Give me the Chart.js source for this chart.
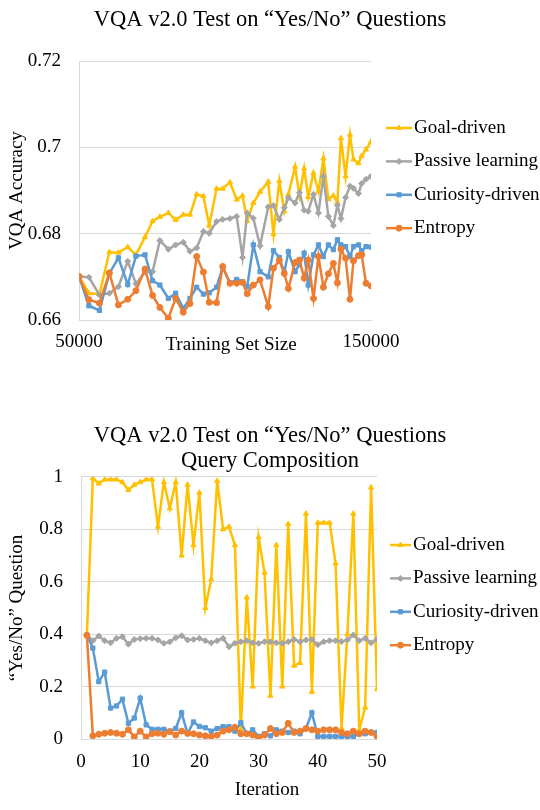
<!DOCTYPE html>
<html>
<head>
<meta charset="utf-8">
<script src="https://cdn.jsdelivr.net/npm/chart.js@4.4.1/dist/chart.umd.min.js"></script>
<style>
  body { margin: 0; background: #fff; }
  canvas { display: block; }
</style>
</head>
<body>
<canvas id="top" width="540" height="400"></canvas>
<canvas id="bottom" width="540" height="410"></canvas>
<script>
const seriesNames = ['Goal-driven', 'Passive learning', 'Curiosity-driven', 'Entropy'];
const seriesColors = ['#FFC000', '#A5A5A5', '#5B9BD5', '#ED7D31'];
const pointStyles = ['triangle', 'rectRot', 'rect', 'circle'];

// top chart: VQA accuracy against training set size
const sizeTicks = [50000, 150000];
const trainSizes = [50000, 53400, 57000, 60400, 63500, 66700, 69500, 72600, 75200, 77700,
    80600, 83100, 85700, 88000, 90300, 92600, 94600, 97100, 99200, 101700,
    104000, 106000, 107600, 109700, 112000, 114800, 116600, 118600, 120300, 121700,
    124000, 125500, 127100, 128500, 130300, 132000, 133700, 135400, 137100, 138500,
    139700, 141300, 142800, 144000, 145700, 146800, 148300, 150000];
const accGoal = [0.6701, 0.6662, 0.6660, 0.6757, 0.6756, 0.6769, 0.6751, 0.6792, 0.6829, 0.6839,
    0.6848, 0.6832, 0.6844, 0.6844, 0.6891, 0.6887, 0.6819, 0.6904, 0.6904, 0.6919,
    0.6879, 0.6888, 0.6830, 0.6871, 0.6897, 0.6920, 0.6799, 0.6922, 0.6852, 0.6891,
    0.6955, 0.6888, 0.6951, 0.6885, 0.6940, 0.6898, 0.6974, 0.6880, 0.6888, 0.6873,
    0.7021, 0.6933, 0.7029, 0.6972, 0.6963, 0.6980, 0.6995, 0.7013];
const accPassive = [0.6701, 0.6699, 0.6658, 0.6662, 0.6677, 0.6736, 0.6684, 0.6711, 0.6712, 0.6784,
    0.6764, 0.6774, 0.6780, 0.6759, 0.6767, 0.6805, 0.6801, 0.6828, 0.6833, 0.6835,
    0.6840, 0.6745, 0.6848, 0.6836, 0.6772, 0.6862, 0.6865, 0.6833, 0.6860, 0.6883,
    0.6871, 0.6895, 0.6854, 0.6852, 0.6891, 0.6848, 0.6933, 0.6840, 0.6819, 0.6866,
    0.6835, 0.6884, 0.6910, 0.6905, 0.6893, 0.6916, 0.6926, 0.6933];
const accCuriosity = [0.6701, 0.6633, 0.6622, 0.6708, 0.6744, 0.6682, 0.6748, 0.6751, 0.6691, 0.6681,
    0.6650, 0.6662, 0.6627, 0.6650, 0.6676, 0.6660, 0.6663, 0.6676, 0.6722, 0.6685,
    0.6694, 0.6689, 0.6677, 0.6774, 0.6712, 0.6700, 0.6761, 0.6745, 0.6710, 0.6758,
    0.6712, 0.6728, 0.6755, 0.6681, 0.6751, 0.6774, 0.6747, 0.6774, 0.6763, 0.6786,
    0.6774, 0.6770, 0.6747, 0.6770, 0.6774, 0.6760, 0.6770, 0.6769];
const accEntropy = [0.6701, 0.6647, 0.6639, 0.6709, 0.6635, 0.6648, 0.6668, 0.6718, 0.6657, 0.6629,
    0.6604, 0.6650, 0.6618, 0.6638, 0.6747, 0.6711, 0.6641, 0.6640, 0.6724, 0.6685,
    0.6685, 0.6687, 0.6661, 0.6681, 0.6693, 0.6631, 0.6720, 0.6738, 0.6708, 0.6673,
    0.6733, 0.6739, 0.6697, 0.6739, 0.6650, 0.6747, 0.6676, 0.6707, 0.6731, 0.6686,
    0.6764, 0.6743, 0.6648, 0.6737, 0.6749, 0.6751, 0.6685, 0.6679];

// bottom chart: share of "Yes/No" questions per iteration
const iterations = [1, 2, 3, 4, 5, 6, 7, 8, 9, 10, 11, 12, 13, 14, 15, 16, 17, 18, 19, 20,
    21, 22, 23, 24, 25, 26, 27, 28, 29, 30, 31, 32, 33, 34, 35, 36, 37, 38, 39, 40,
    41, 42, 43, 44, 45, 46, 47, 48, 49, 50];
const ynGoal = [0.40, 0.995, 0.975, 0.99, 0.99, 0.99, 0.98, 0.95, 0.97, 0.98,
    0.99, 0.99, 0.81, 0.98, 0.88, 0.98, 0.70, 0.97, 0.74, 0.94,
    0.50, 0.61, 0.985, 0.80, 0.81, 0.74, 0.035, 0.54, 0.20, 0.77,
    0.635, 0.165, 0.74, 0.20, 0.82, 0.28, 0.29, 0.86, 0.18, 0.825,
    0.825, 0.825, 0.67, 0.04, 0.40, 0.86, 0.035, 0.12, 0.96, 0.19];
const ynPassive = [0.397, 0.375, 0.393, 0.375, 0.367, 0.384, 0.390, 0.362, 0.380, 0.383,
    0.384, 0.384, 0.378, 0.365, 0.371, 0.386, 0.394, 0.378, 0.380, 0.384,
    0.375, 0.367, 0.375, 0.384, 0.352, 0.365, 0.371, 0.375, 0.367, 0.365,
    0.371, 0.371, 0.367, 0.365, 0.371, 0.380, 0.371, 0.378, 0.380, 0.360,
    0.371, 0.375, 0.375, 0.372, 0.378, 0.397, 0.375, 0.384, 0.367, 0.380];
const ynCuriosity = [0.397, 0.347, 0.219, 0.255, 0.118, 0.126, 0.152, 0.060, 0.080, 0.156,
    0.054, 0.037, 0.037, 0.037, 0.030, 0.040, 0.100, 0.020, 0.065, 0.048,
    0.043, 0.030, 0.040, 0.047, 0.047, 0.030, 0.062, 0.020, 0.035, 0.010,
    0.020, 0.012, 0.035, 0.030, 0.025, 0.030, 0.020, 0.040, 0.100, 0.010,
    0.010, 0.010, 0.010, 0.010, 0.010, 0.010, 0.020, 0.020, 0.025, 0.025];
const ynEntropy = [0.395, 0.012, 0.018, 0.022, 0.025, 0.022, 0.018, 0.035, 0.008, 0.030,
    0.008, 0.020, 0.022, 0.018, 0.028, 0.015, 0.030, 0.022, 0.020, 0.015,
    0.012, 0.010, 0.015, 0.030, 0.035, 0.045, 0.020, 0.020, 0.015, 0.005,
    0.015, 0.040, 0.020, 0.025, 0.060, 0.025, 0.030, 0.040, 0.035, 0.030,
    0.035, 0.035, 0.035, 0.025, 0.020, 0.030, 0.020, 0.030, 0.025, 0.010];

const serif = "'Liberation Serif', 'Times New Roman', serif";
Chart.defaults.font.family = serif;
Chart.defaults.font.size = 19;
Chart.defaults.color = '#000';

const gridColor = '#D9D9D9';
const fmt = (v) => String(+v.toFixed(2));

// Excel style legend: short line with the marker in its middle
const lineLegend = {
    id: 'lineLegend',
    afterDraw(chart, args, opts) {
        const ctx = chart.ctx;
        ctx.save();
        ctx.font = '19px ' + serif;
        ctx.textBaseline = 'middle';
        ctx.textAlign = 'left';
        chart.data.datasets.forEach((ds, i) => {
            const y = opts.top + i * opts.gap;
            ctx.strokeStyle = ds.borderColor;
            ctx.lineWidth = ds.borderWidth;
            ctx.beginPath();
            ctx.moveTo(opts.x, y);
            ctx.lineTo(opts.x + opts.len, y);
            ctx.stroke();
            ctx.fillStyle = ds.borderColor;
            ctx.lineWidth = 1;
            Chart.helpers.drawPoint(ctx, {
                pointStyle: ds.pointStyle,
                radius: ds.pointRadius,
                rotation: 0,
                borderWidth: 1,
            }, opts.x + opts.len / 2, y);
            ctx.fillStyle = '#000';
            ctx.fillText(ds.label, opts.x + opts.len + 2, y);
        });
        ctx.restore();
    },
};

// x axis titles sit off centre in the original, so they are placed by hand
const axisText = {
    id: 'axisText',
    afterDraw(chart, args, opts) {
        const ctx = chart.ctx;
        ctx.save();
        ctx.font = '19px ' + serif;
        ctx.textBaseline = 'middle';
        ctx.textAlign = 'center';
        ctx.fillStyle = '#000';
        ctx.fillText(opts.text, opts.x, opts.y);
        ctx.restore();
    },
};

// empty right hand axis keeps room for the legend while the title stays centred on the canvas
function spacer(width) {
    return {
        type: 'linear',
        position: 'right',
        grid: { display: false, drawTicks: false },
        border: { display: false },
        ticks: { display: false },
        afterFit: (s) => { s.width = width; },
    };
}

function makeDatasets(xs, series) {
    return series.map((vals, i) => ({
        label: seriesNames[i],
        data: xs.map((x, j) => ({ x: x, y: vals[j] })),
        borderColor: seriesColors[i],
        backgroundColor: seriesColors[i],
        pointBackgroundColor: seriesColors[i],
        pointBorderColor: seriesColors[i],
        pointStyle: pointStyles[i],
        pointRadius: 3,
        pointBorderWidth: 1,
        borderWidth: 2.5,
        order: 4 - i,
    }));
}

new Chart(document.getElementById('top'), {
    type: 'line',
    data: {
        datasets: makeDatasets(trainSizes, [accGoal, accPassive, accCuriosity, accEntropy]),
    },
    options: {
        responsive: false,
        animation: false,
        devicePixelRatio: 1,
        layout: { padding: 0 },
        plugins: {
            legend: { display: false },
            tooltip: { enabled: false },
            title: {
                display: true,
                text: 'VQA v2.0 Test on “Yes/No” Questions',
                color: '#000',
                font: { size: 22.5, weight: 'normal' },
                padding: { top: 7, bottom: 27 },
            },
            lineLegend: { x: 386, len: 26, top: 128, gap: 33.4 },
            axisText: { text: 'Training Set Size', x: 231, y: 345 },
        },
        scales: {
            x: {
                type: 'linear',
                min: sizeTicks[0],
                max: sizeTicks[sizeTicks.length - 1],
                ticks: { padding: 11, callback: (v) => String(v) },
                afterBuildTicks: (s) => { s.ticks = sizeTicks.map((v) => ({ value: v })); },
                grid: { display: false, drawTicks: false },
                border: { color: gridColor },
                afterFit: (s) => { s.height = 80; },
            },
            y: {
                min: 0.66,
                max: 0.72,
                ticks: { stepSize: 0.02, padding: 18, callback: fmt },
                grid: { color: gridColor, drawTicks: false },
                border: { color: gridColor },
                title: {
                    display: true,
                    text: 'VQA Accuracy',
                    padding: { top: 6, bottom: 0 },
                },
                afterFit: (s) => { s.width = 79; },
            },
            room: spacer(169),
        },
    },
    plugins: [lineLegend, axisText],
});

new Chart(document.getElementById('bottom'), {
    type: 'line',
    data: {
        datasets: makeDatasets(iterations, [ynGoal, ynPassive, ynCuriosity, ynEntropy]),
    },
    options: {
        responsive: false,
        animation: false,
        devicePixelRatio: 1,
        layout: { padding: 0 },
        plugins: {
            legend: { display: false },
            tooltip: { enabled: false },
            title: {
                display: true,
                text: ['VQA v2.0 Test on “Yes/No” Questions', 'Query Composition'],
                color: '#000',
                font: { size: 22.5, weight: 'normal', lineHeight: 1.13 },
                padding: { top: 23.3, bottom: 2.8 },
            },
            lineLegend: { x: 390, len: 21, top: 145, gap: 33.4 },
            axisText: { text: 'Iteration', x: 267, y: 390 },
        },
        scales: {
            x: {
                type: 'linear',
                min: 0,
                max: 50,
                ticks: { stepSize: 10, padding: 11.6 },
                grid: { display: false, drawTicks: false },
                border: { color: gridColor },
                afterFit: (s) => { s.height = 71; },
            },
            y: {
                min: 0,
                max: 1,
                ticks: { stepSize: 0.2, padding: 18, callback: fmt },
                grid: { color: gridColor, drawTicks: false },
                border: { color: gridColor },
                title: {
                    display: true,
                    text: '“Yes/No” Question',
                    padding: { top: 6, bottom: 0 },
                },
                afterFit: (s) => { s.width = 81; },
            },
            room: spacer(163),
        },
    },
    plugins: [lineLegend, axisText],
});
</script>
</body>
</html>
